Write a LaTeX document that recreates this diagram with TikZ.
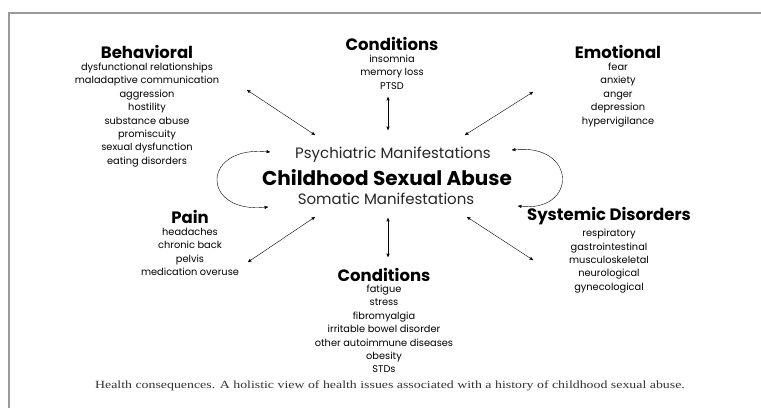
\documentclass[tikz,border=0pt]{standalone}
\usepackage{fontspec}
\setmainfont{Poppins}
\newfontfamily\capfont{Liberation Serif}
\usetikzlibrary{arrows,positioning}

\begin{document}
\begin{tikzpicture}[x=1pt,y=-1pt,<->,>=stealth',thin,node distance=4pt,
  head/.style={font=\fontsize{16.5}{16.5}\bfseries\selectfont,inner sep=0pt},
  items/.style={font=\fontsize{9.8}{13.4}\selectfont,align=center,inner sep=0pt},
  mid/.style={font=\fontsize{15}{15}\selectfont,text=black!85,inner sep=0pt}]

        \useasboundingbox (0,0) rectangle (761,408);
        \draw[-,black!40,line width=1.5pt] (761,13) -- (9,13) -- (9,408);

        % centre
        \node[font=\fontsize{20}{20}\bfseries\selectfont,inner sep=0pt] (csa) at (387,178) {Childhood Sexual Abuse};
        \node[mid] (psy) at (393,155) {Psychiatric Manifestations};
        \node[mid] (som) at (386,199) {Somatic Manifestations};

        % groups
        \node[head] (beh) at (147,52) {Behavioral};
        \node[items] (behl) [below=of beh] {dysfunctional relationships\\maladaptive communication\\aggression\\hostility\\substance abuse\\promiscuity\\sexual dysfunction\\eating disorders};
        \node[head] (cdt) at (392,44) {Conditions};
        \node[items] (cdtl) [below=of cdt] {insomnia\\memory loss\\PTSD};
        \node[head] (emo) at (618,52) {Emotional};
        \node[items] (emol) [below=of emo] {fear\\anxiety\\anger\\depression\\hypervigilance};
        \node[head] (pain) at (190,217) {Pain};
        \node[items] (painl) [below=of pain] {headaches\\chronic back\\pelvis\\medication overuse};
        \node[head] (sys) at (609,216) {Systemic Disorders};
        \node[items] (sysl) [below=of sys] {respiratory\\gastrointestinal\\musculoskeletal\\neurological\\gynecological};
        \node[head] (cdb) at (384,275) {Conditions};
        \node[items] (cdbl) [below=3pt of cdb] {fatigue\\stress\\fibromyalgia\\irritable bowel disorder\\other autoimmune diseases\\obesity\\STDs};

        \node[font=\capfont\fontsize{11}{11}\selectfont,text=black!80,inner sep=0pt] (cap) at (390,386) {\scalebox{1.26}[1]{Health consequences. A holistic view of health issues associated with a history of childhood sexual abuse.}};

        % arrow ends
        \coordinate (behA) at (247,90);  \coordinate (behB) at (315,135);
        \coordinate (cdtA) at (388,97);  \coordinate (cdtB) at (388,130);
        \coordinate (emoA) at (533,92);  \coordinate (emoB) at (465,135);
        \coordinate (painA) at (248,262); \coordinate (painB) at (315,217);
        \coordinate (sysA) at (533,260); \coordinate (sysB) at (467,217);
        \coordinate (cdbA) at (388,257); \coordinate (cdbB) at (388,218);
        \coordinate (lt) at (270,152); \coordinate (lb) at (268,207);
        \coordinate (rt) at (512,150); \coordinate (rb) at (518,206);

        \draw (behA) -- (behB);
        \draw (cdtA) -- (cdtB);
        \draw (emoA) -- (emoB);
        \draw (painA) -- (painB);
        \draw (sysA) -- (sysB);
        \draw (cdbA) -- (cdbB);
        \draw (lt) .. controls (200,144) and (200,215) .. (lb);
        \draw (rt) .. controls (578,142) and (578,214) .. (rb);

    \end{tikzpicture}
\end{document}
